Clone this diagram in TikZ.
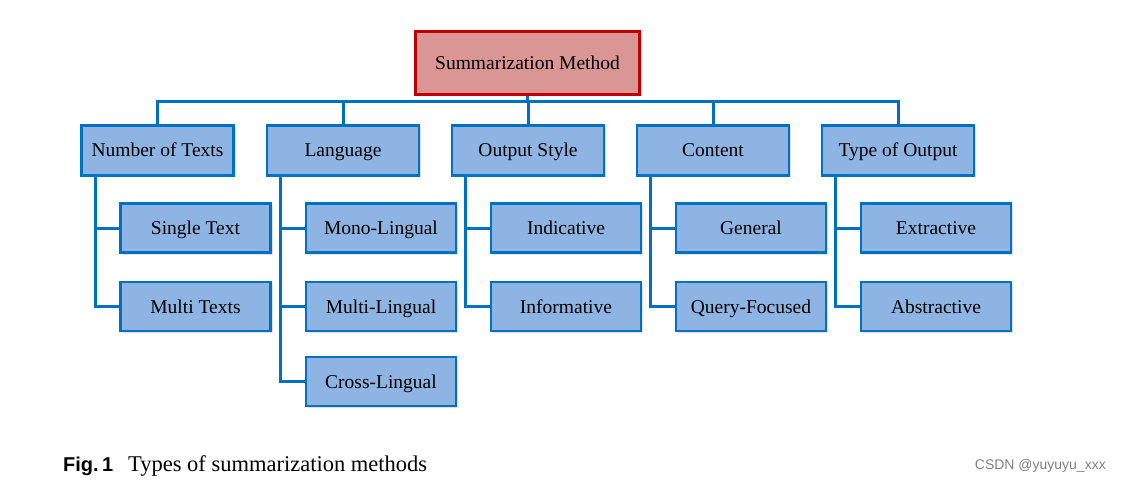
\documentclass[tikz,border=0pt]{standalone}
\usepackage{fontspec}
\setmainfont{Liberation Serif}
\newfontfamily\figfont{Liberation Sans}
\usetikzlibrary{shadows}
\definecolor{boxblue}{HTML}{8EB4E3}
\definecolor{lineblue}{HTML}{0070C0}
\definecolor{boxred}{HTML}{D99694}
\definecolor{linered}{HTML}{C00000}
\tikzstyle{method}=[rectangle,draw=linered,fill=boxred,line width=2.8pt,minimum width=224pt,minimum height=63pt,text height=15pt,text depth=2pt,font=\fontsize{19.5}{22}\selectfont,drop shadow={shadow xshift=2pt,shadow yshift=-2pt,opacity=0.25}]
\tikzstyle{category}=[rectangle,draw=lineblue,fill=boxblue,line width=2.8pt,minimum width=152pt,minimum height=50pt,text height=15pt,text depth=2pt,font=\fontsize{19.5}{22}\selectfont,drop shadow={shadow xshift=2pt,shadow yshift=-2pt,opacity=0.25}]
\tikzstyle{kind}=[category,minimum width=150pt,minimum height=49pt]
\tikzstyle{link}=[draw=lineblue,line width=3pt]

\begin{document}
\begin{tikzpicture}[x=1pt,y=-1pt]
\useasboundingbox (0,0) rectangle (1122,484);
\node[method] at (527.5, 63) (top) {Summarization Method};
\coordinate (bus) at (0, 102);
% categories
\node[category] at (157.5, 150.5) (num) {Number of Texts};
\node[category] at (343, 150.5) (lang) {Language};
\node[category] at (528, 150.5) (style) {Output Style};
\node[category] at (713, 150.5) (cont) {Content};
\node[category] at (898, 150.5) (type) {Type of Output};
\foreach \c in {num, lang, style, cont, type}
  \draw[link] (top.south) -- (top.south |- bus) -| (\c.north);
% sub-kinds
\node[kind] at (195.5, 228) (single) {Single Text};
\node[kind] at (195.5, 306.5) (multi) {Multi Texts};
\node[kind] at (381, 228) (mono) {Mono-Lingual};
\node[kind] at (381, 306.5) (mling) {Multi-Lingual};
\node[kind] at (381, 381.5) (cross) {Cross-Lingual};
\node[kind] at (566, 228) (indic) {Indicative};
\node[kind] at (566, 306.5) (inform) {Informative};
\node[kind] at (751, 228) (general) {General};
\node[kind] at (751, 306.5) (query) {Query-Focused};
\node[kind] at (936, 228) (extr) {Extractive};
\node[kind] at (936, 306.5) (abstr) {Abstractive};
\draw[link] ([xshift=15pt]num.south west) |- (single.west);
\draw[link] ([xshift=15pt]num.south west) |- (multi.west);
\draw[link] ([xshift=15pt]lang.south west) |- (mono.west);
\draw[link] ([xshift=15pt]lang.south west) |- (mling.west);
\draw[link] ([xshift=15pt]lang.south west) |- (cross.west);
\draw[link] ([xshift=15pt]style.south west) |- (indic.west);
\draw[link] ([xshift=15pt]style.south west) |- (inform.west);
\draw[link] ([xshift=15pt]cont.south west) |- (general.west);
\draw[link] ([xshift=15pt]cont.south west) |- (query.west);
\draw[link] ([xshift=15pt]type.south west) |- (extr.west);
\draw[link] ([xshift=15pt]type.south west) |- (abstr.west);
% caption
\node[anchor=base west,inner sep=0pt,font=\figfont\bfseries\fontsize{20}{24}\selectfont] at (63, 471) (fig) {Fig.\,1};
\node[anchor=base west,inner sep=0pt,font=\fontsize{22.5}{26}\selectfont] at (128, 471) (caption) {Types of summarization methods};
\node[anchor=east,inner sep=0pt,text=gray,font=\figfont\fontsize{14}{16}\selectfont] at (1106, 466) (mark) {CSDN @yuyuyu\_xxx};
\end{tikzpicture}
\end{document}
